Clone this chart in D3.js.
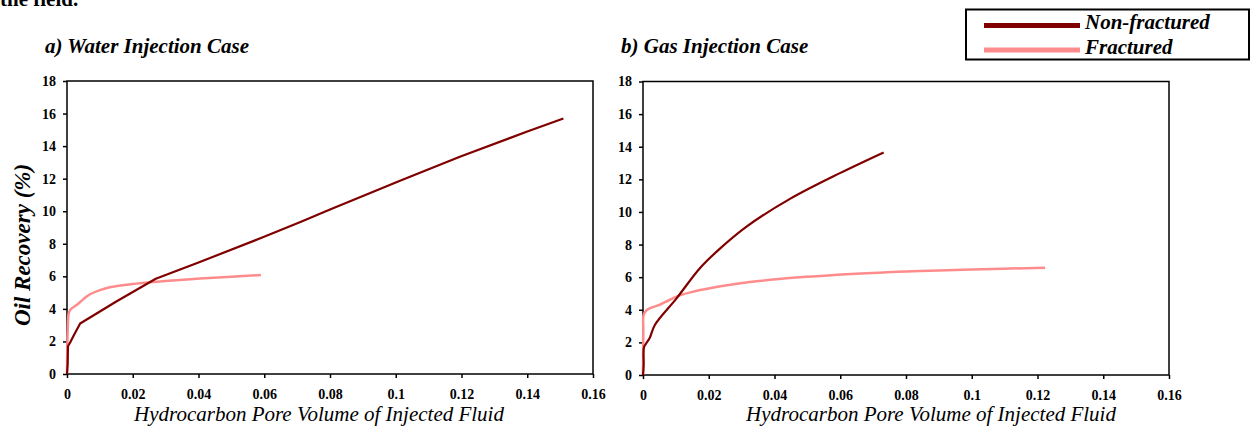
<!DOCTYPE html>
<html>
<head>
<meta charset="utf-8">
<script src="https://cdn.jsdelivr.net/npm/d3@7"></script>
<style>
  body { margin: 0; background: #fff; }
  svg { display: block; font-family: "Liberation Serif", "Times New Roman", serif; }
  .tick line { stroke: #000; stroke-width: 1.5; }
  .domain { display: none; }
</style>
</head>
<body>
<svg width="1254" height="429"></svg>
<script>
const width = 1254;
const height = 429;

const xTicks = [0, 0.02, 0.04, 0.06, 0.08, 0.1, 0.12, 0.14, 0.16];
const yTicks = [0, 2, 4, 6, 8, 10, 12, 14, 16, 18];
const seriesNames = ["Non-fractured", "Fractured"];
const colors = ["#800000", "#ff8c8c"];

// a) water injection
const waterNonFrac = [
  [0, 0], [0.0002, 0.6], [0.0003, 1.7], [0.001, 1.95], [0.002, 2.35], [0.004, 3.1],
  [0.015, 4.45], [0.027, 5.85], [0.04, 6.85], [0.059, 8.35], [0.071, 9.34],
  [0.08, 10.1], [0.1013, 11.87], [0.1195, 13.35], [0.1398, 14.88], [0.151, 15.7]
];
const waterFrac = [
  [0, 0], [0.0002, 2.6], [0.0005, 3.7], [0.001, 3.95], [0.003, 4.25], [0.005, 4.6],
  [0.007, 4.9], [0.01, 5.15], [0.013, 5.33], [0.02, 5.53], [0.0252, 5.64],
  [0.03, 5.72], [0.0405, 5.86], [0.05, 5.97], [0.059, 6.08]
];

// b) gas injection
const gasNonFrac = [
  [0, 0], [0.0002, 0.6], [0.0003, 1.7], [0.001, 1.95], [0.002, 2.25], [0.0036, 3.07],
  [0.0102, 4.7], [0.0173, 6.55], [0.0234, 7.75], [0.0315, 9.1], [0.0447, 10.8],
  [0.0599, 12.38], [0.0732, 13.65]
];
const gasFrac = [
  [0, 0], [0.0001, 2.7], [0.0002, 3.7], [0.001, 3.95], [0.002, 4.08], [0.005, 4.3],
  [0.008, 4.6], [0.0112, 4.88], [0.015, 5.1], [0.0203, 5.32], [0.0325, 5.7],
  [0.0477, 5.99], [0.068, 6.24], [0.0843, 6.38], [0.1, 6.47], [0.1223, 6.58]
];

const panels = [
  { title: "a) Water Injection Case", left: 67, right: 593, top: 81, bottom: 374,
    titleX: 45, xLabelX: 319, yLabel: true, series: [waterNonFrac, waterFrac], smooth: [false, true] },
  { title: "b) Gas Injection Case", left: 643, right: 1169, top: 81.5, bottom: 375,
    titleX: 621, xLabelX: 931, yLabel: false, series: [gasNonFrac, gasFrac], smooth: [true, true] }
];

const svg = d3.select("svg").attr("width", width).attr("height", height);

// text cut off at the top of the page
svg.append("text").attr("x", 0).attr("y", 6)
  .style("font-size", "21px").style("font-weight", "bold")
  .text("the field.");

panels.forEach(p => {
  const x = d3.scaleLinear().domain([0, 0.16]).range([p.left, p.right]);
  const y = d3.scaleLinear().domain([0, 18]).range([p.bottom, p.top]);

  const g = svg.append("g");

  const xAxis = g.append("g")
    .attr("transform", `translate(0,${p.bottom})`)
    .call(d3.axisBottom(x).tickValues(xTicks).tickSize(4).tickPadding(11).tickFormat(d => d === 0 ? "0" : String(+d.toFixed(2))));

  const yAxis = g.append("g")
    .attr("transform", `translate(${p.left},0)`)
    .call(d3.axisLeft(y).tickValues(yTicks).tickSize(4).tickPadding(7));

  [xAxis, yAxis].forEach(a => a.attr("font-family", null).attr("font-size", null)
    .selectAll("text")
    .style("font-family", "'Liberation Serif', 'Times New Roman', serif")
    .style("font-size", "14px").style("font-weight", "bold").style("fill", "#000"));

  g.append("rect")
    .attr("x", p.left).attr("y", p.top)
    .attr("width", p.right - p.left).attr("height", p.bottom - p.top)
    .attr("fill", "none").attr("stroke", "#000").attr("stroke-width", 1.5);

  // fractured first, non-fractured on top
  [1, 0].forEach(i => {
    const line = d3.line().x(d => x(d[0])).y(d => y(d[1]))
      .curve(p.smooth[i] ? d3.curveCatmullRom.alpha(0.5) : d3.curveLinear);
    g.append("path")
      .datum(p.series[i])
      .attr("d", line)
      .attr("fill", "none")
      .attr("stroke", colors[i])
      .attr("stroke-width", i === 0 ? 2.2 : 2.5)
      .attr("stroke-linejoin", "round");
  });

  g.append("text").attr("x", p.titleX).attr("y", 53)
    .style("font-size", "21px").style("font-weight", "bold").style("font-style", "italic")
    .text(p.title);

  g.append("text").attr("x", p.xLabelX).attr("y", 421)
    .attr("text-anchor", "middle")
    .style("font-size", "21px").style("font-style", "italic")
    .text("Hydrocarbon Pore Volume of Injected Fluid");

  if (p.yLabel) {
    g.append("text")
      .attr("transform", "translate(30,245) rotate(-90)")
      .attr("text-anchor", "middle")
      .style("font-size", "23px").style("font-weight", "bold").style("font-style", "italic")
      .text("Oil Recovery (%)");
  }
});

// legend
const legend = svg.append("g");
legend.append("rect").attr("x", 966).attr("y", 9.5).attr("width", 283).attr("height", 50)
  .attr("fill", "#fff").attr("stroke", "#000").attr("stroke-width", 2);
seriesNames.forEach((name, i) => {
  const ly = 25.5 + i * 24.5;
  legend.append("line").attr("x1", 984).attr("x2", 1080).attr("y1", ly).attr("y2", ly)
    .attr("stroke", colors[i]).attr("stroke-width", 5);
  legend.append("text").attr("x", 1085).attr("y", ly + 3.5)
    .style("font-size", "21px").style("font-weight", "bold").style("font-style", "italic")
    .text(name);
});
</script>
</body>
</html>
